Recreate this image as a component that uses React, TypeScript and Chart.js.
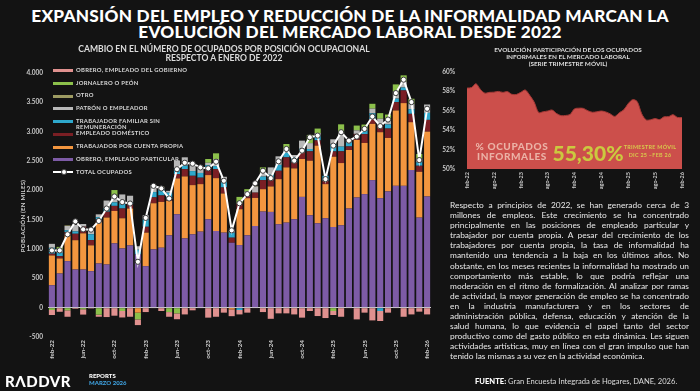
import React, { useEffect, useRef } from 'react';
import { Chart, registerables } from 'chart.js';
Chart.register(...registerables);

const months = [
  'feb-22','mar-22','abr-22','may-22','jun-22','jul-22','ago-22','sep-22','oct-22','nov-22','dic-22','ene-23',
  'feb-23','mar-23','abr-23','may-23','jun-23','jul-23','ago-23','sep-23','oct-23','nov-23','dic-23','ene-24',
  'feb-24','mar-24','abr-24','may-24','jun-24','jul-24','ago-24','sep-24','oct-24','nov-24','dic-24','ene-25',
  'feb-25','mar-25','abr-25','may-25','jun-25','jul-25','ago-25','sep-25','oct-25','nov-25','dic-25','ene-26',
  'feb-26'
];

const particular = [382,582,793,650,650,622,753,736,1096,1010,1061,907,707,993,1022,1233,1592,1181,1250,1296,1507,1307,1279,1107,1067,1233,1392,1638,1632,1421,1450,1507,1888,1575,1438,1524,1375,1404,1690,1878,1935,2174,1866,1981,2077,2077,2345,1535,1895];
const cuentaPropia = [508,257,437,500,617,440,708,800,553,514,629,-85,572,787,781,587,611,1056,839,810,753,901,667,-30,611,633,479,382,434,770,941,867,646,930,1324,582,1198,1061,998,981,873,959,1125,912,1284,1410,817,781,1106];
const domestico = [30,40,60,110,114,90,40,100,86,166,73,0,100,100,110,30,75,126,159,110,120,155,103,86,102,69,90,154,120,143,171,103,114,160,90,57,90,200,60,103,150,80,130,160,143,216,142,103,200];
const familiar = [100,57,30,40,0,100,40,60,60,80,30,80,128,90,100,110,100,60,80,80,50,50,100,86,-40,0,0,60,80,100,80,80,60,40,85,85,127,80,72,0,60,100,-57,70,60,50,80,60,120];
const patron = [68,50,72,110,45,60,50,130,100,160,115,60,68,119,40,31,130,140,120,95,40,118,82,30,0,40,105,70,125,146,60,45,139,100,40,0,80,240,40,60,40,80,100,70,120,100,90,60,142];
const otro = [0,0,10,0,0,0,0,0,0,0,0,0,0,0,10,0,0,0,0,0,0,0,0,0,0,0,10,0,0,0,0,0,0,0,0,0,0,0,0,0,0,0,0,0,0,0,0,0,0];
const jornalero = [-40,50,-45,0,-28,0,-120,0,110,-57,0,-115,0,0,0,-75,-97,0,0,0,64,100,0,0,108,45,0,87,0,0,88,0,0,140,76,0,-57,140,0,82,63,82,95,99,122,107,87,80,0];
const gobierno = [-85,-70,-110,-20,-90,-15,-35,-160,-137,-110,-155,-97,-75,-10,-57,-80,-100,-115,-45,-10,-170,-155,-85,-115,-75,-85,-10,-75,-190,-97,-97,-115,-170,-57,-143,-177,-68,-155,-10,-200,-85,-217,-170,-85,-10,-155,-115,-68,-115];
const totalOcupados = [976,976,1250,1470,1335,1330,1478,1690,1895,1800,1775,782,1530,2077,2032,1861,2360,2470,2455,2391,2374,2488,2163,1318,1780,1935,2120,2334,2208,2494,2705,2505,2676,2905,2933,2191,2762,2991,2847,2916,3047,3258,3094,3207,3658,3886,3504,2516,3390];

const informalidad = [58.34,58.4,58.79,58.2,57.82,57.9,57.92,58.0,57.9,57.98,57.7,57.68,57.9,58.15,57.6,56.9,55.82,55.9,55.98,56.08,55.72,55.5,55.52,55.62,56.2,56.27,56.25,56.0,55.85,55.9,55.98,55.88,55.68,55.42,55.8,56.1,56.75,57.15,56.95,55.7,55.06,55.08,55.2,55.1,55.38,55.4,55.6,55.32,55.3];

const seriesNames = [
  'OBRERO, EMPLEADO PARTICULAR',
  'TRABAJADOR POR CUENTA PROPIA',
  'EMPLEADO DOMÉSTICO',
  'TRABAJADOR FAMILIAR SIN REMUNERACIÓN',
  'PATRÓN O EMPLEADOR',
  'OTRO',
  'JORNALERO O PEÓN',
  'OBRERO, EMPLEADO DEL GOBIERNO',
];
const seriesColors = ['#7d5ba6', '#f3963f', '#7a1f24', '#2ea8cc', '#b8b8b8', '#9d9b62', '#8cc04b', '#e0918f'];
const seriesData = [particular, cuentaPropia, domestico, familiar, patron, otro, jornalero, gobierno];

const paragraphLines = [
  'Respecto a principios de 2022, se han generado cerca de 3',
  'millones de empleos. Este crecimiento se ha concentrado',
  'principalmente en las posiciones de empleado particular y',
  'trabajador por cuenta propia. A pesar del crecimiento de los',
  'trabajadores por cuenta propia, la tasa de informalidad ha',
  'mantenido una tendencia a la baja en los últimos años. No',
  'obstante, en los meses recientes la informalidad ha mostrado un',
  'comportamiento más estable, lo que podría reflejar una',
  'moderación en el ritmo de formalización. Al analizar por ramas',
  'de actividad, la mayor generación de empleo se ha concentrado',
  'en la industria manufacturera y en los sectores de',
  'administración pública, defensa, educación y atención de la',
  'salud humana, lo que evidencia el papel tanto del sector',
  'productivo como del gasto público en esta dinámica. Les siguen',
  'actividades artísticas, muy en línea con el gran impulso que han',
  'tenido las mismas a su vez en la actividad económica.',
];

const fmt = (v: number) => {
  const s = Math.abs(v).toString().replace(/\B(?=(\d{3})+(?!\d))/g, '.');
  return (v < 0 ? '-' : '') + s;
};

const FONT = 'Lato, "Noto Sans", sans-serif';

export default function App() {
  const leftRef = useRef<HTMLCanvasElement>(null);
  const rightRef = useRef<HTMLCanvasElement>(null);

  useEffect(() => {
    Chart.defaults.font.family = FONT;
    const barSets: any[] = seriesData.map((d, i) => ({
      type: 'bar',
      label: seriesNames[i],
      data: d,
      backgroundColor: seriesColors[i],
      borderWidth: 0,
      stack: 'a',
      order: 1,
      categoryPercentage: 1,
      barPercentage: 0.78,
    }));
    const lineSet: any = {
      type: 'line',
      label: 'TOTAL OCUPADOS',
      data: totalOcupados,
      borderColor: '#ffffff',
      borderWidth: 2,
      pointRadius: 2.6,
      pointBackgroundColor: '#ffffff',
      pointBorderColor: '#3a3a3a',
      pointBorderWidth: 1,
      stack: 'total',
      order: 0,
      tension: 0,
    };
    const c1 = new Chart(leftRef.current!, {
      type: 'bar',
      data: { labels: months, datasets: [...barSets, lineSet] },
      options: {
        animation: false,
        responsive: false,
        layout: { padding: { top: 11, right: 9, left: 0, bottom: 20 } },
        plugins: { legend: { display: false }, tooltip: { enabled: false } },
        scales: {
          x: {
            stacked: true,
            grid: { display: false, drawTicks: false },
            border: { display: false },
            ticks: {
              autoSkip: false,
              maxRotation: 90,
              minRotation: 90,
              color: '#d0d0d0',
              padding: 3,
              font: { size: 6.3, weight: 'bold' },
              callback: (_v: any, i: number) => (i % 4 === 0 ? months[i] : null),
            },
            afterFit: (s: any) => { s.height = 25; },
          },
          y: {
            stacked: true,
            min: -500,
            max: 4000,
            grid: {
              color: (ctx: any) => (ctx.tick && ctx.tick.value === 0 ? '#cfcfcf' : 'rgba(0,0,0,0)'),
              drawTicks: false,
              lineWidth: 1,
            },
            border: { display: false },
            ticks: {
              stepSize: 500,
              color: '#c8c8c8',
              padding: 5,
              font: { size: 6.5, weight: 'bold' },
              callback: (v: any) => fmt(Number(v)),
            },
            afterFit: (s: any) => { s.width = 48; },
          },
        },
      } as any,
    });

    const c2 = new Chart(rightRef.current!, {
      type: 'line',
      data: {
        labels: months,
        datasets: [{
          data: informalidad,
          fill: 'start',
          backgroundColor: '#cc4f4b',
          borderColor: '#a33a37',
          borderWidth: 1,
          pointRadius: 0,
          tension: 0.3,
        }],
      },
      options: {
        animation: false,
        responsive: false,
        layout: { padding: { top: 10, right: 18, left: 0, bottom: 12 } },
        plugins: { legend: { display: false }, tooltip: { enabled: false } },
        scales: {
          x: {
            grid: { display: false, drawTicks: false },
            border: { display: false },
            ticks: {
              autoSkip: false,
              maxRotation: 90,
              minRotation: 90,
              color: '#c8c8c8',
              padding: 3,
              font: { size: 5.5, weight: 'bold' },
              callback: (_v: any, i: number) => (i % 6 === 0 ? months[i] : null),
            },
            afterFit: (s: any) => { s.height = 28; },
          },
          y: {
            min: 50,
            max: 60,
            grid: { display: false },
            border: { display: false },
            ticks: {
              stepSize: 2,
              color: '#c8c8c8',
              padding: 4,
              font: { size: 6.5, weight: 'bold' },
              callback: (v: any) => v + '%',
            },
            afterFit: (s: any) => { s.width = 27; },
          },
        },
      } as any,
    });
    return () => { c1.destroy(); c2.destroy(); };
  }, []);

  const legendItems = [
    { label: seriesNames[7], color: seriesColors[7], y: 70.7 },
    { label: seriesNames[6], color: seriesColors[6], y: 83.3 },
    { label: seriesNames[5], color: seriesColors[5], y: 96 },
    { label: seriesNames[4], color: seriesColors[4], y: 108.8 },
    { label: 'TRABAJADOR FAMILIAR SIN', label2: 'REMUNERACIÓN', color: seriesColors[3], y: 121.7 },
    { label: seriesNames[2], color: seriesColors[2], y: 134.2 },
    { label: seriesNames[1], color: seriesColors[1], y: 147 },
    { label: seriesNames[0], color: seriesColors[0], y: 159.7 },
    { label: 'TOTAL OCUPADOS', color: '#ffffff', y: 172.3, isLine: true },
  ];

  const txt = (extra: React.CSSProperties): React.CSSProperties => ({
    position: 'absolute', whiteSpace: 'nowrap', margin: 0, ...extra,
  });

  return (
    <div style={{ position: 'fixed', left: 0, top: 0, width: 700, height: 391, background: '#131313', overflow: 'hidden', fontFamily: FONT, color: '#e6e6e6' }}>
      <canvas ref={leftRef} width={440} height={320} style={{ position: 'absolute', left: 0, top: 62, width: 440, height: 320 }} />
      <canvas ref={rightRef} width={260} height={147} style={{ position: 'absolute', left: 440, top: 62, width: 260, height: 147 }} />

      {/* main title */}
      <div style={txt({ left: 0, width: 700, top: 8, textAlign: 'center', fontSize: 17.2, fontWeight: 900, lineHeight: '15.5px', color: '#ffffff', letterSpacing: 0.25 })}>
        EXPANSIÓN DEL EMPLEO Y REDUCCIÓN DE LA INFORMALIDAD MARCAN LA<br />EVOLUCIÓN DEL MERCADO LABORAL DESDE 2022
      </div>
      {/* left subtitle */}
      <div style={txt({ left: 0, width: 448, top: 44.5, textAlign: 'center', fontSize: 8.6, fontWeight: 700, lineHeight: '9.5px', color: '#dcdcdc' })}>
        CAMBIO EN EL NÚMERO DE OCUPADOS POR POSICIÓN OCUPACIONAL<br />RESPECTO A ENERO DE 2022
      </div>
      {/* right subtitle */}
      <div style={txt({ left: 440, width: 256, top: 45.5, textAlign: 'center', fontSize: 6.4, fontWeight: 700, lineHeight: '7px', color: '#dcdcdc' })}>
        EVOLUCIÓN PARTICIPACIÓN DE LOS OCUPADOS<br />INFORMALES EN EL MERCADO LABORAL<br />(SERIE TRIMESTRE MÓVIL)
      </div>

      {/* y-axis title */}
      <div style={txt({ left: 22, top: 216, fontSize: 6, fontWeight: 700, color: '#cfcfcf', transform: 'translate(-50%,-50%) rotate(-90deg)', letterSpacing: 0.3 })}>
        POBLACIÓN (EN MILES)
      </div>

      {/* legend */}
      {legendItems.map((it, i) => (
        <React.Fragment key={i}>
          <div style={{ position: 'absolute', left: 53, top: it.y - 1.5, width: 20, height: it.isLine ? 2 : 3, background: it.color }} />
          {it.isLine && (
            <div style={{ position: 'absolute', left: 63 - 2.5, top: it.y - 3, width: 4, height: 4, borderRadius: '50%', background: '#fff', border: '1px solid #444' }} />
          )}
          <div style={txt({ left: 76, top: it.y - 3.8, fontSize: 5.9, fontWeight: 700, lineHeight: '6.6px', color: '#d8d8d8', letterSpacing: 0.25 })}>
            {it.label}{it.label2 ? <><br />{it.label2}</> : null}
          </div>
        </React.Fragment>
      ))}

      {/* right chart overlay text */}
      <div style={txt({ left: 512, top: 151, transform: 'translate(-50%,-50%)', textAlign: 'center', fontSize: 10, fontWeight: 900, lineHeight: '10px', color: '#ebb2a6', letterSpacing: 0.6 })}>
        % OCUPADOS<br />INFORMALES
      </div>
      <div style={txt({ left: 588, top: 151.5, transform: 'translate(-50%,-50%)', fontSize: 21, fontWeight: 900, lineHeight: '21px', color: '#cbc93f' })}>
        55,30%
      </div>
      <div style={txt({ left: 650, top: 151, transform: 'translate(-50%,-50%)', textAlign: 'center', fontSize: 5.4, fontWeight: 700, lineHeight: '8px', color: '#d8c94c', letterSpacing: 0.3 })}>
        TRIMESTRE MÓVIL<br />DIC 25 –FEB 26
      </div>

      {/* paragraph */}
      <div style={{ position: 'absolute', left: 450, top: 200, width: 239, fontSize: 8.4, lineHeight: '10.1px', color: '#e8e8e8' }}>
        {paragraphLines.map((l, i) => (
          <div key={i} style={{ textAlign: i === paragraphLines.length - 1 ? 'left' : 'justify', textAlignLast: i === paragraphLines.length - 1 ? 'left' : 'justify', whiteSpace: 'nowrap', height: 10.1 } as any}>{l}</div>
        ))}
      </div>

      {/* footer */}
      <div style={txt({ left: 475, top: 376, fontSize: 7.6, color: '#dcdcdc' })}>
        <b style={{ color: '#ffffff', fontWeight: 900 }}>FUENTE:</b> Gran Encuesta Integrada de Hogares, DANE, 2026.
      </div>
      <div style={txt({ left: 5, top: 373, fontSize: 15, fontWeight: 900, color: '#ffffff', letterSpacing: 0.5, lineHeight: '16px' })}>
        RΛDDVR
      </div>
      <div style={txt({ left: 89, top: 373, fontSize: 6, fontWeight: 900, color: '#ffffff', lineHeight: '6.5px' })}>
        REPORTS
      </div>
      <div style={txt({ left: 89, top: 380, fontSize: 6, fontWeight: 900, color: '#3e9fdc', lineHeight: '6.5px' })}>
        MARZO 2026
      </div>
    </div>
  );
}
